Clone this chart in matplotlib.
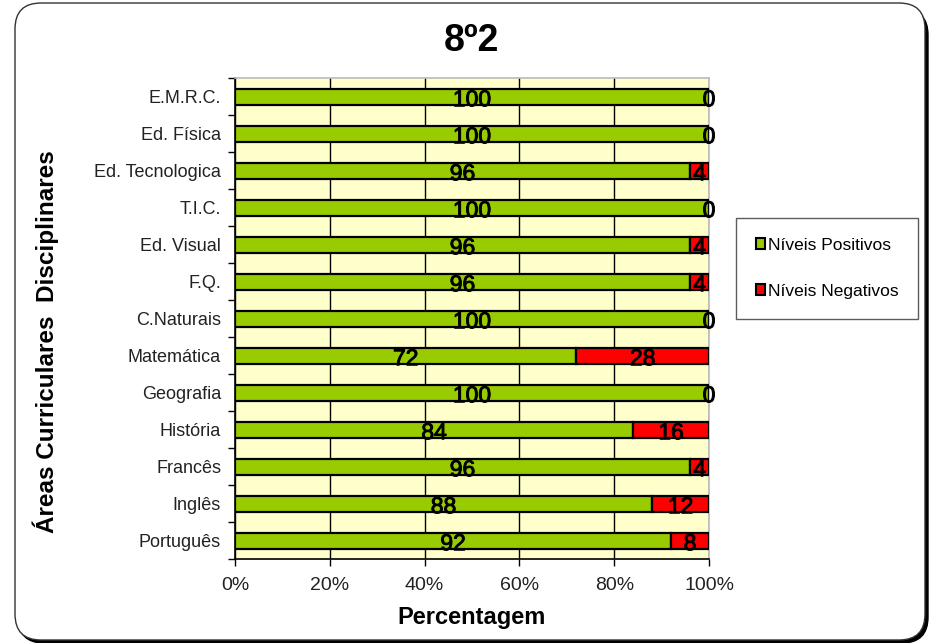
import matplotlib.pyplot as plt
import matplotlib.patheffects as pe
from matplotlib.patches import FancyBboxPatch, Patch
from matplotlib.transforms import IdentityTransform

plt.rcParams['font.family'] = ['Liberation Sans', 'DejaVu Sans']

# categories from top to bottom
disciplinas = ['E.M.R.C.', 'Ed. Física', 'Ed. Tecnologica', 'T.I.C.', 'Ed. Visual',
               'F.Q.', 'C.Naturais', 'Matemática', 'Geografia', 'História',
               'Francês', 'Inglês', 'Português']
positivos = [100, 100, 96, 100, 96, 96, 100, 72, 100, 84, 96, 88, 92]
negativos = [0, 0, 4, 0, 4, 4, 0, 28, 0, 16, 4, 12, 8]
x_ticks = ['0%', '20%', '40%', '60%', '80%', '100%']

GREEN = '#99CC00'
RED = '#FF0000'

fig = plt.figure(figsize=(9.36, 6.43), dpi=100)

# rounded frame with shadow (pixel coords)
shadow = FancyBboxPatch((18, 0), 910, 634, boxstyle='round,pad=0,rounding_size=26',
                        transform=IdentityTransform(), facecolor='black',
                        edgecolor='black', linewidth=1, zorder=0)
frame = FancyBboxPatch((15, 3), 910, 637, boxstyle='round,pad=0,rounding_size=26',
                       transform=IdentityTransform(), facecolor='white',
                       edgecolor='#333333', linewidth=1, zorder=1)
fig.patches.append(shadow)
fig.patches.append(frame)

ax = fig.add_axes([0.251, 0.13, 0.5065, 0.748])
ax.set_facecolor('#FFFFCC')
ax.set_zorder(2)

n = len(disciplinas)
ypos = list(range(n))
bh = 0.42
ax.barh(ypos, positivos, height=bh, color=GREEN, edgecolor='black', linewidth=1.6, zorder=3)
ax.barh(ypos, negativos, left=positivos, height=bh, color=RED, edgecolor='black',
        linewidth=1.6, zorder=3)

stroke = [pe.withStroke(linewidth=0.7, foreground='black')]
for y, p, ng in zip(ypos, positivos, negativos):
    ax.annotate(str(p), (p / 2, y), xytext=(0, -2), textcoords='offset points',
                ha='center', va='center', fontsize=16.5, color='black',
                path_effects=stroke, zorder=5)
    ax.annotate(str(ng), (p + ng / 2, y), xytext=(0, -2), textcoords='offset points',
                ha='center', va='center', fontsize=16.5, color='black',
                path_effects=stroke, zorder=5)

ax.set_xlim(0, 100)
ax.set_ylim(n - 0.5, -0.5)
ax.set_xticks([0, 20, 40, 60, 80, 100], x_ticks, fontsize=14, color='#222222')
ax.set_yticks(ypos, disciplinas, fontsize=13, color='#222222')
ax.set_yticks([i - 0.5 for i in range(n + 1)], minor=True)
ax.tick_params(axis='y', which='major', length=0, pad=10)
ax.tick_params(axis='y', which='minor', length=5, direction='out', width=1)
ax.tick_params(axis='x', length=5, direction='out', width=1, pad=8)

ax.grid(axis='x', color='black', linewidth=1, zorder=1)
ax.set_axisbelow(True)
for s in ['top', 'right']:
    ax.spines[s].set_color('#BBBBBB')
    ax.spines[s].set_linewidth(1.2)
ax.spines['left'].set_linewidth(1.2)
ax.spines['bottom'].set_linewidth(1.2)

ax.set_xlabel('Percentagem', fontsize=17, fontweight='bold', labelpad=8)
ax.set_ylabel('Áreas Curriculares  Disciplinares', fontsize=17.5, fontweight='bold')
ax.yaxis.set_label_coords(-0.372, 0.452)

fig.text(0.504, 0.937, '8º2', fontsize=27, fontweight='bold', ha='center', va='center',
         zorder=3)

handles = [Patch(facecolor=GREEN, edgecolor='black', linewidth=1.5),
           Patch(facecolor=RED, edgecolor='black', linewidth=1.5)]
leg = fig.legend(handles, ['Níveis Positivos', 'Níveis Negativos'],
                 loc='center', bbox_to_anchor=(0.8835, 0.583), fontsize=12.5,
                 frameon=True, fancybox=False, edgecolor='#333333',
                 handlelength=0.55, handleheight=0.55, handletextpad=0.15,
                 labelspacing=1.8, borderpad=1.15, borderaxespad=0)
leg.get_frame().set_linewidth(1)
leg.set_zorder(4)

fig.savefig('out.png', dpi=100)
